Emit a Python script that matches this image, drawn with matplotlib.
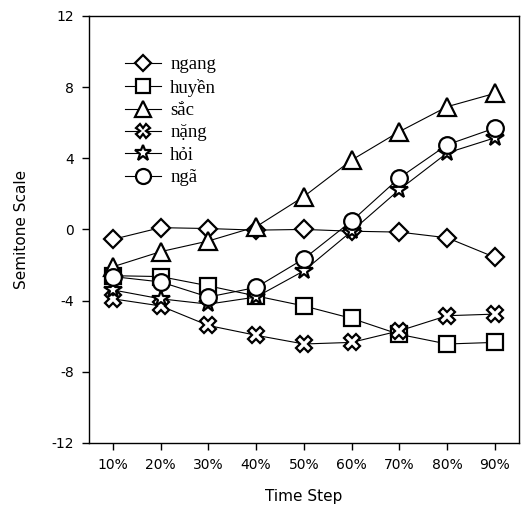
import matplotlib
matplotlib.use("Agg")
import matplotlib.pyplot as plt

plt.rcParams["axes.unicode_minus"] = False

STEPS = ["10%", "20%", "30%", "40%", "50%", "60%", "70%", "80%", "90%"]

ngang = [-0.56, 0.1, 0.05, -0.04, 0.0, -0.1, -0.15, -0.47, -1.57]
huyen = [-2.6, -2.65, -3.17, -3.74, -4.3, -5.0, -5.9, -6.44, -6.35]
sac = [-2.1, -1.25, -0.65, 0.15, 1.85, 3.9, 5.5, 6.9, 7.65]
nang = [-3.9, -4.3, -5.4, -5.95, -6.44, -6.35, -5.7, -4.85, -4.76]
hoi = [-3.4, -3.9, -4.2, -3.8, -2.33, -0.1, 2.24, 4.3, 5.15]
nga = [-2.65, -2.95, -3.8, -3.26, -1.65, 0.47, 2.9, 4.76, 5.7]

SERIES = [
    ("ngang", ngang, "D", 9.5),
    ("huyền", huyen, "s", 11),
    ("sắc", sac, "^", 12.5),
    ("nặng", nang, "X", 11),
    ("hỏi", hoi, "*", 13),
    ("ngã", nga, "o", 12),
]

fig = plt.figure(figsize=(5.23, 5.15), dpi=100)
ax = fig.add_axes([0.170, 0.140, 0.822, 0.829])

xs = list(range(1, len(STEPS) + 1))
for name, ys, mk, ms in SERIES:
    ax.plot(xs, ys, color="black", lw=0.8, marker=mk, ms=ms,
            mfc="white", mec="black", mew=1.6, label=name)

ax.set_xlim(0.5, 9.5)
ax.set_ylim(-12, 12)
ax.set_xticks(xs)
ax.set_xticklabels(STEPS)
ax.set_yticks([-12, -8, -4, 0, 4, 8, 12])
ax.tick_params(direction="out", length=5, width=1, labelsize=10, pad=6)
for s in ax.spines.values():
    s.set_linewidth(1.0)

ax.set_xlabel("Time Step", fontsize=11, labelpad=12)
ax.set_ylabel("Semitone Scale", fontsize=11, labelpad=16)

leg = ax.legend(loc="upper left", bbox_to_anchor=(0.045, 0.945), frameon=False,
                prop={"family": "Liberation Serif", "size": 13.5},
                handlelength=1.9, handletextpad=0.5, labelspacing=0.28,
                markerscale=0.9)

fig.savefig("out.png", dpi=100)
